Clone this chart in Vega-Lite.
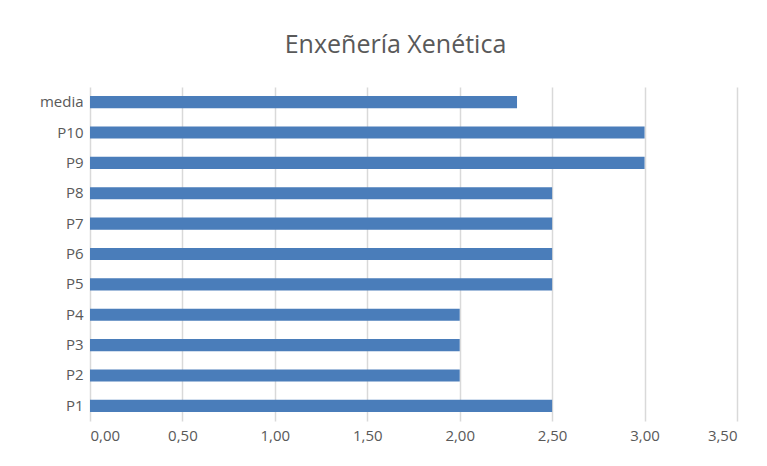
{
  "$schema": "https://vega.github.io/schema/vega-lite/v6.json",
  "width": 647,
  "height": 334,
  "autosize": {"type": "none"},
  "padding": {"left": 90, "top": 87, "right": 30, "bottom": 45},
  "background": "white",
  "title": {
    "text": "Enxeñería Xenética",
    "font": "Open Sans",
    "fontSize": 25,
    "fontWeight": 400,
    "color": "#595959",
    "offset": 29,
    "dx": -18,
    "anchor": "middle"
  },
  "data": {
    "values": [
      {"categoria": "media", "valor": 2.31},
      {"categoria": "P10", "valor": 3.0},
      {"categoria": "P9", "valor": 3.0},
      {"categoria": "P8", "valor": 2.5},
      {"categoria": "P7", "valor": 2.5},
      {"categoria": "P6", "valor": 2.5},
      {"categoria": "P5", "valor": 2.5},
      {"categoria": "P4", "valor": 2.0},
      {"categoria": "P3", "valor": 2.0},
      {"categoria": "P2", "valor": 2.0},
      {"categoria": "P1", "valor": 2.5}
    ]
  },
  "mark": {"type": "bar", "color": "#4a7dba"},
  "encoding": {
    "y": {
      "field": "categoria",
      "type": "nominal",
      "sort": ["media", "P10", "P9", "P8", "P7", "P6", "P5", "P4", "P3", "P2", "P1"],
      "scale": {"paddingInner": 0.6, "paddingOuter": 0.3},
      "axis": {
        "title": null,
        "domain": false,
        "ticks": false,
        "grid": false,
        "labelFont": "Open Sans",
        "labelFontSize": 15,
        "labelColor": "#595959",
        "labelPadding": 7
      }
    },
    "x": {
      "field": "valor",
      "type": "quantitative",
      "scale": {"domain": [0, 3.5], "nice": false},
      "axis": {
        "title": null,
        "domain": false,
        "ticks": false,
        "values": [0, 0.5, 1, 1.5, 2, 2.5, 3, 3.5],
        "labelExpr": "replace(format(datum.value, '.2f'), '.', ',')",
        "grid": true,
        "gridColor": "#d9d9d9",
        "gridWidth": 1.5,
        "labelFont": "Open Sans",
        "labelFontSize": 15,
        "labelColor": "#595959",
        "labelPadding": 7
      }
    }
  },
  "config": {"view": {"stroke": null}}
}
